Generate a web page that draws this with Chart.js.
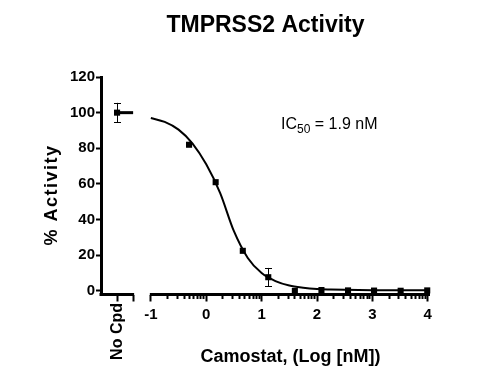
<!DOCTYPE html>
<html><head><meta charset="utf-8">
<script src="https://cdn.jsdelivr.net/npm/chart.js@4.4.1/dist/chart.umd.min.js"></script>
<style>html,body{margin:0;padding:0;background:#fff}</style>
</head><body>
<canvas id="c" width="485" height="377" style="width:485px;height:377px;display:block"></canvas>
<script>
// ---------- data ----------
const titleText = 'TMPRSS2 Activity';
const xAxisTitle = 'Camostat, (Log [nM])';
const yAxisTitle = '% Activity';
const controlLabel = 'No Cpd';
const controlPos = -1.61;      // x-scale position of the "No Cpd" category
const controlSegEnd = -1.32;   // end of the "No Cpd" axis segment
const controlValue = 100;
const controlError = 5.5;
const logConc = [-0.31, 0.17, 0.66, 1.12, 1.60, 2.08, 2.56, 3.03, 3.51, 3.99];
const activity = [82, 61, 22.5, 7.7, 0, 0.5, 0.3, 0.2, 0.1, 0.3];
const activityErr = [0, 0, 0, 5.2, 0, 0, 0, 0, 0, 0];
const fitX = [-1, -0.75, -0.5, -0.25, 0, 0.25, 0.5, 0.75, 1, 1.25, 1.5, 1.75, 2, 2.25, 2.5, 2.75, 3, 3.25, 3.5, 3.75, 4];
const fitY = [97.0, 94.8, 90.5, 82.8, 71.0, 55.0, 33.5, 18.5, 10.0, 5.5, 3.0, 1.8, 1.1, 0.8, 0.6, 0.5, 0.45, 0.45, 0.4, 0.4, 0.4];
const xMajorTicks = [-1, 0, 1, 2, 3, 4];
const yTicks = [0, 20, 40, 60, 80, 100, 120];
const ic50Label = ['IC', '50', ' = 1.9 nM'];

// ---------- helpers ----------
const FONT = "'Liberation Sans', Arial, Helvetica, sans-serif";
Chart.defaults.font.family = FONT;
Chart.defaults.color = '#000';

const minorTicks = [];
for (let d = -1; d < 4; d++) for (let k = 2; k <= 9; k++) minorTicks.push(+(d + Math.log10(k)).toFixed(4));
const isMinor = v => minorTicks.includes(+(+v).toFixed(4));

const extras = {
  id: 'extras',
  beforeDatasetsDraw(chart) {
    const {ctx, chartArea, scales: {x}} = chart;
    const y0 = chartArea.bottom;
    ctx.save();
    ctx.strokeStyle = '#000';
    ctx.lineWidth = 3;
    ctx.lineCap = 'butt';
    ctx.beginPath();
    ctx.moveTo(chartArea.left - 1.5, y0);
    ctx.lineTo(x.getPixelForValue(controlSegEnd) + 1, y0);
    ctx.moveTo(x.getPixelForValue(-1) - 1, y0);
    ctx.lineTo(chartArea.right, y0);
    ctx.stroke();
    ctx.restore();
  },
  afterDatasetsDraw(chart) {
    const {ctx, chartArea, scales: {x, y}} = chart;
    ctx.save();
    ctx.strokeStyle = '#000';
    ctx.lineWidth = 1;
    const bar = (xv, yv, e) => {
      const px = Math.round(x.getPixelForValue(xv)) + 0.5;
      const t = y.getPixelForValue(yv + e), b = y.getPixelForValue(yv - e);
      ctx.beginPath();
      ctx.moveTo(px, t); ctx.lineTo(px, b);
      ctx.moveTo(px - 3.5, Math.round(t) + 0.5); ctx.lineTo(px + 3.5, Math.round(t) + 0.5);
      ctx.moveTo(px - 3.5, Math.round(b) + 0.5); ctx.lineTo(px + 3.5, Math.round(b) + 0.5);
      ctx.stroke();
    };
    bar(controlPos, controlValue, controlError);
    logConc.forEach((v, i) => { if (activityErr[i] > 0) bar(v, activity[i], activityErr[i]); });

    ctx.fillStyle = '#000';
    // IC50 annotation
    ctx.textBaseline = 'alphabetic';
    ctx.textAlign = 'left';
    let tx = 281;
    const by = 129;
    ctx.font = '16px ' + FONT;
    ctx.fillText(ic50Label[0], tx, by); tx += ctx.measureText(ic50Label[0]).width;
    ctx.font = '12px ' + FONT;
    ctx.fillText(ic50Label[1], tx, by + 4); tx += ctx.measureText(ic50Label[1]).width;
    ctx.font = '16px ' + FONT;
    ctx.fillText(ic50Label[2], tx, by);

    // No Cpd rotated label
    ctx.save();
    ctx.font = 'bold 16px ' + FONT;
    ctx.translate(x.getPixelForValue(controlPos) + 1, 303);
    ctx.rotate(-Math.PI / 2);
    ctx.textAlign = 'right';
    ctx.textBaseline = 'middle';
    ctx.fillText(controlLabel, 0, 0);
    ctx.restore();

    // x axis title (centered on the log segment)
    ctx.font = 'bold 18px ' + FONT;
    ctx.textAlign = 'center';
    ctx.textBaseline = 'alphabetic';
    const cx = (x.getPixelForValue(-1) + chartArea.right) / 2;
    ctx.fillText(xAxisTitle, cx, 361.5);

    // y axis title
    ctx.save();
    ctx.font = 'bold 18px ' + FONT;
    try { ctx.letterSpacing = '1.5px'; } catch (e) {}
    ctx.translate(57, 195);
    ctx.rotate(-Math.PI / 2);
    ctx.textAlign = 'center';
    ctx.textBaseline = 'alphabetic';
    ctx.fillText(yAxisTitle, 0, 0);
    ctx.restore();
    ctx.restore();
  }
};

new Chart(document.getElementById('c'), {
  type: 'scatter',
  data: {
    datasets: [
      {
        type: 'line',
        data: fitX.map((v, i) => ({x: v, y: fitY[i]})),
        borderColor: '#000', borderWidth: 2, pointRadius: 0,
        cubicInterpolationMode: 'monotone', fill: false, clip: false
      },
      {
        data: logConc.map((v, i) => ({x: v, y: activity[i]})),
        pointStyle: 'rect', pointRadius: 4.3, backgroundColor: '#000', borderColor: '#000',
        borderWidth: 0, showLine: false, clip: false
      },
      {
        type: 'line',
        data: [{x: controlPos, y: controlValue}, {x: controlSegEnd, y: controlValue}],
        borderColor: '#000', borderWidth: 3, backgroundColor: '#000',
        pointStyle: 'rect', pointRadius: [4.3, 0], pointBorderWidth: 0,
        pointBackgroundColor: '#000', borderCapStyle: 'butt', clip: false
      }
    ]
  },
  options: {
    responsive: false, animation: false, devicePixelRatio: 1,
    layout: {padding: {left: 51, right: 55, top: 0, bottom: 22.5}},
    plugins: {
      legend: {display: false}, tooltip: {enabled: false},
      title: {
        display: true, text: titleText, fullSize: false, color: '#000',
        font: {size: 23, weight: 'bold', family: FONT},
        padding: {top: 12, bottom: 37.4}
      }
    },
    scales: {
      x: {
        type: 'linear', min: -1.9, max: 4.04,
        afterFit: s => { s.height = 60; },
        afterBuildTicks: s => {
          const vals = [controlPos, controlSegEnd, ...xMajorTicks, ...minorTicks].sort((a, b) => a - b);
          s.ticks = vals.map(v => ({value: v}));
        },
        border: {display: false},
        grid: {
          drawOnChartArea: false, drawTicks: true, tickLength: 7, color: '#000',
          tickColor: '#000', tickWidth: 2,
          tickBorderDash: c => (c.tick && isMinor(c.tick.value)) ? [4, 50] : []
        },
        ticks: {
          autoSkip: false, maxRotation: 0, minRotation: 0, padding: 4, color: '#000',
          font: {size: 15, weight: 'bold'},
          callback: v => xMajorTicks.includes(v) ? String(v) : ''
        }
      },
      y: {
        type: 'linear', min: -2, max: 120,
        afterFit: s => { s.width = 50; },
        afterBuildTicks: s => { s.ticks = yTicks.map(v => ({value: v})); },
        border: {display: true, color: '#000', width: 3},
        grid: {drawOnChartArea: false, drawTicks: true, tickLength: 5, tickColor: '#000', tickWidth: 2},
        ticks: {padding: 1, color: '#000', font: {size: 15, weight: 'bold'}}
      }
    }
  },
  plugins: [extras]
});
</script>
</body></html>
